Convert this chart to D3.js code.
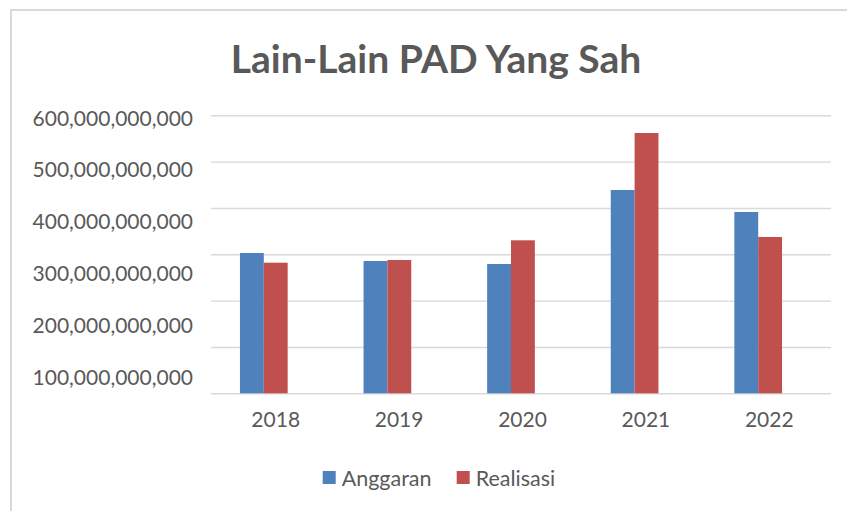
<!DOCTYPE html>
<html lang="en">
<head>
  <meta charset="UTF-8">
  <title>Lain-Lain PAD Yang Sah</title>
  <style>
    body { margin: 0; padding: 0; background: #fff; }
    svg { display: block; font-family: Lato, "Open Sans", sans-serif; }
    .grid line { stroke: #d9d9d9; stroke-width: 1.4px; }
    .grid path { display: none; }
    .ylab path, .ylab line, .xlab path, .xlab line { display: none; }
    .ylab text, .xlab text, .legend text { fill: #595959; }
  </style>
</head>
<body>
  <div id="chart"></div>
  <script src="https://d3js.org/d3.v7.min.js"></script>
  <script>
    var years = ["2018", "2019", "2020", "2021", "2022"];
    var seriesNames = ["Anggaran", "Realisasi"];
    var anggaran = [302.8e9, 285.6e9, 279.1e9, 438.8e9, 391.3e9];
    var realisasi = [281.9e9, 287.7e9, 330.2e9, 561.8e9, 337.4e9];
    var gridTicks = [0, 100e9, 200e9, 300e9, 400e9, 500e9, 600e9];
    var labelTicks = [100e9, 200e9, 300e9, 400e9, 500e9, 600e9];
    var colors = ["#4f81bd", "#c0504d"];

    var width = 847, height = 511;
    var svg = d3.select("#chart").append("svg")
      .attr("width", width)
      .attr("height", height);

    // outer chart border (runs off the right and bottom edges)
    svg.append("rect")
      .attr("x", 11).attr("y", 10)
      .attr("width", 900).attr("height", 600)
      .attr("fill", "none")
      .attr("stroke", "#d9d9d9")
      .attr("stroke-width", 2);

    svg.append("text")
      .attr("x", 436).attr("y", 73)
      .attr("text-anchor", "middle")
      .attr("font-size", 39)
      .attr("font-weight", "bold")
      .attr("fill", "#595959")
      .text("Lain-Lain PAD Yang Sah");

    var gridLeft = 211, gridRight = 831;
    var y = d3.scaleLinear().domain([0, 600e9]).range([393.3, 115.3]);
    // tick labels sit slightly off the gridlines in the original
    var yLab = d3.scaleLinear().domain([0, 600e9]).range([429.1, 118.3]);

    svg.append("g")
      .attr("class", "grid")
      .attr("transform", "translate(" + gridLeft + ",0)")
      .call(d3.axisLeft(y).tickValues(gridTicks).tickSize(-(gridRight - gridLeft)).tickFormat(""));

    svg.append("g")
      .attr("class", "ylab")
      .attr("transform", "translate(193,0)")
      .call(d3.axisLeft(yLab).tickValues(labelTicks).tickSize(0).tickPadding(0).tickFormat(d3.format(",")))
      .selectAll("text")
      .attr("font-size", 21)
      .attr("font-family", "Lato, sans-serif");

    var xCat = d3.scaleBand().domain(years).range([214, 831]);
    svg.append("g")
      .attr("class", "xlab")
      .attr("transform", "translate(0,412)")
      .call(d3.axisBottom(xCat).tickSize(0).tickPadding(0))
      .selectAll("text")
      .attr("font-size", 21)
      .attr("font-family", "Lato, sans-serif");

    var xBar = d3.scaleBand().domain(years).range([202, 820])
      .paddingInner(0.614).paddingOuter(0.307);
    var xSub = d3.scaleBand().domain(seriesNames).range([0, xBar.bandwidth()]);

    var rows = years.map(function(yr, i) {
      return { year: yr, values: [anggaran[i], realisasi[i]] };
    });

    var groups = svg.selectAll(".bar-group")
      .data(rows)
      .enter().append("g")
      .attr("class", "bar-group")
      .attr("transform", function(d) { return "translate(" + xBar(d.year) + ",0)"; });

    groups.selectAll("rect")
      .data(function(d) { return d.values.map(function(v, j) { return { name: seriesNames[j], value: v, j: j }; }); })
      .enter().append("rect")
      .attr("x", function(d) { return xSub(d.name); })
      .attr("width", xSub.bandwidth())
      .attr("y", function(d) { return y(d.value); })
      .attr("height", function(d) { return y(0) - y(d.value); })
      .attr("fill", function(d) { return colors[d.j]; });

    var legendX = [322.7, 456.7];
    var legend = svg.selectAll(".legend")
      .data(seriesNames)
      .enter().append("g")
      .attr("class", "legend")
      .attr("transform", function(d, i) { return "translate(" + legendX[i] + ",471)"; });

    legend.append("rect")
      .attr("width", 13).attr("height", 13)
      .attr("fill", function(d, i) { return colors[i]; });

    legend.append("text")
      .attr("x", 19).attr("y", 14.5)
      .attr("font-size", 21.5)
      .text(function(d) { return d; });
  </script>
</body>
</html>
